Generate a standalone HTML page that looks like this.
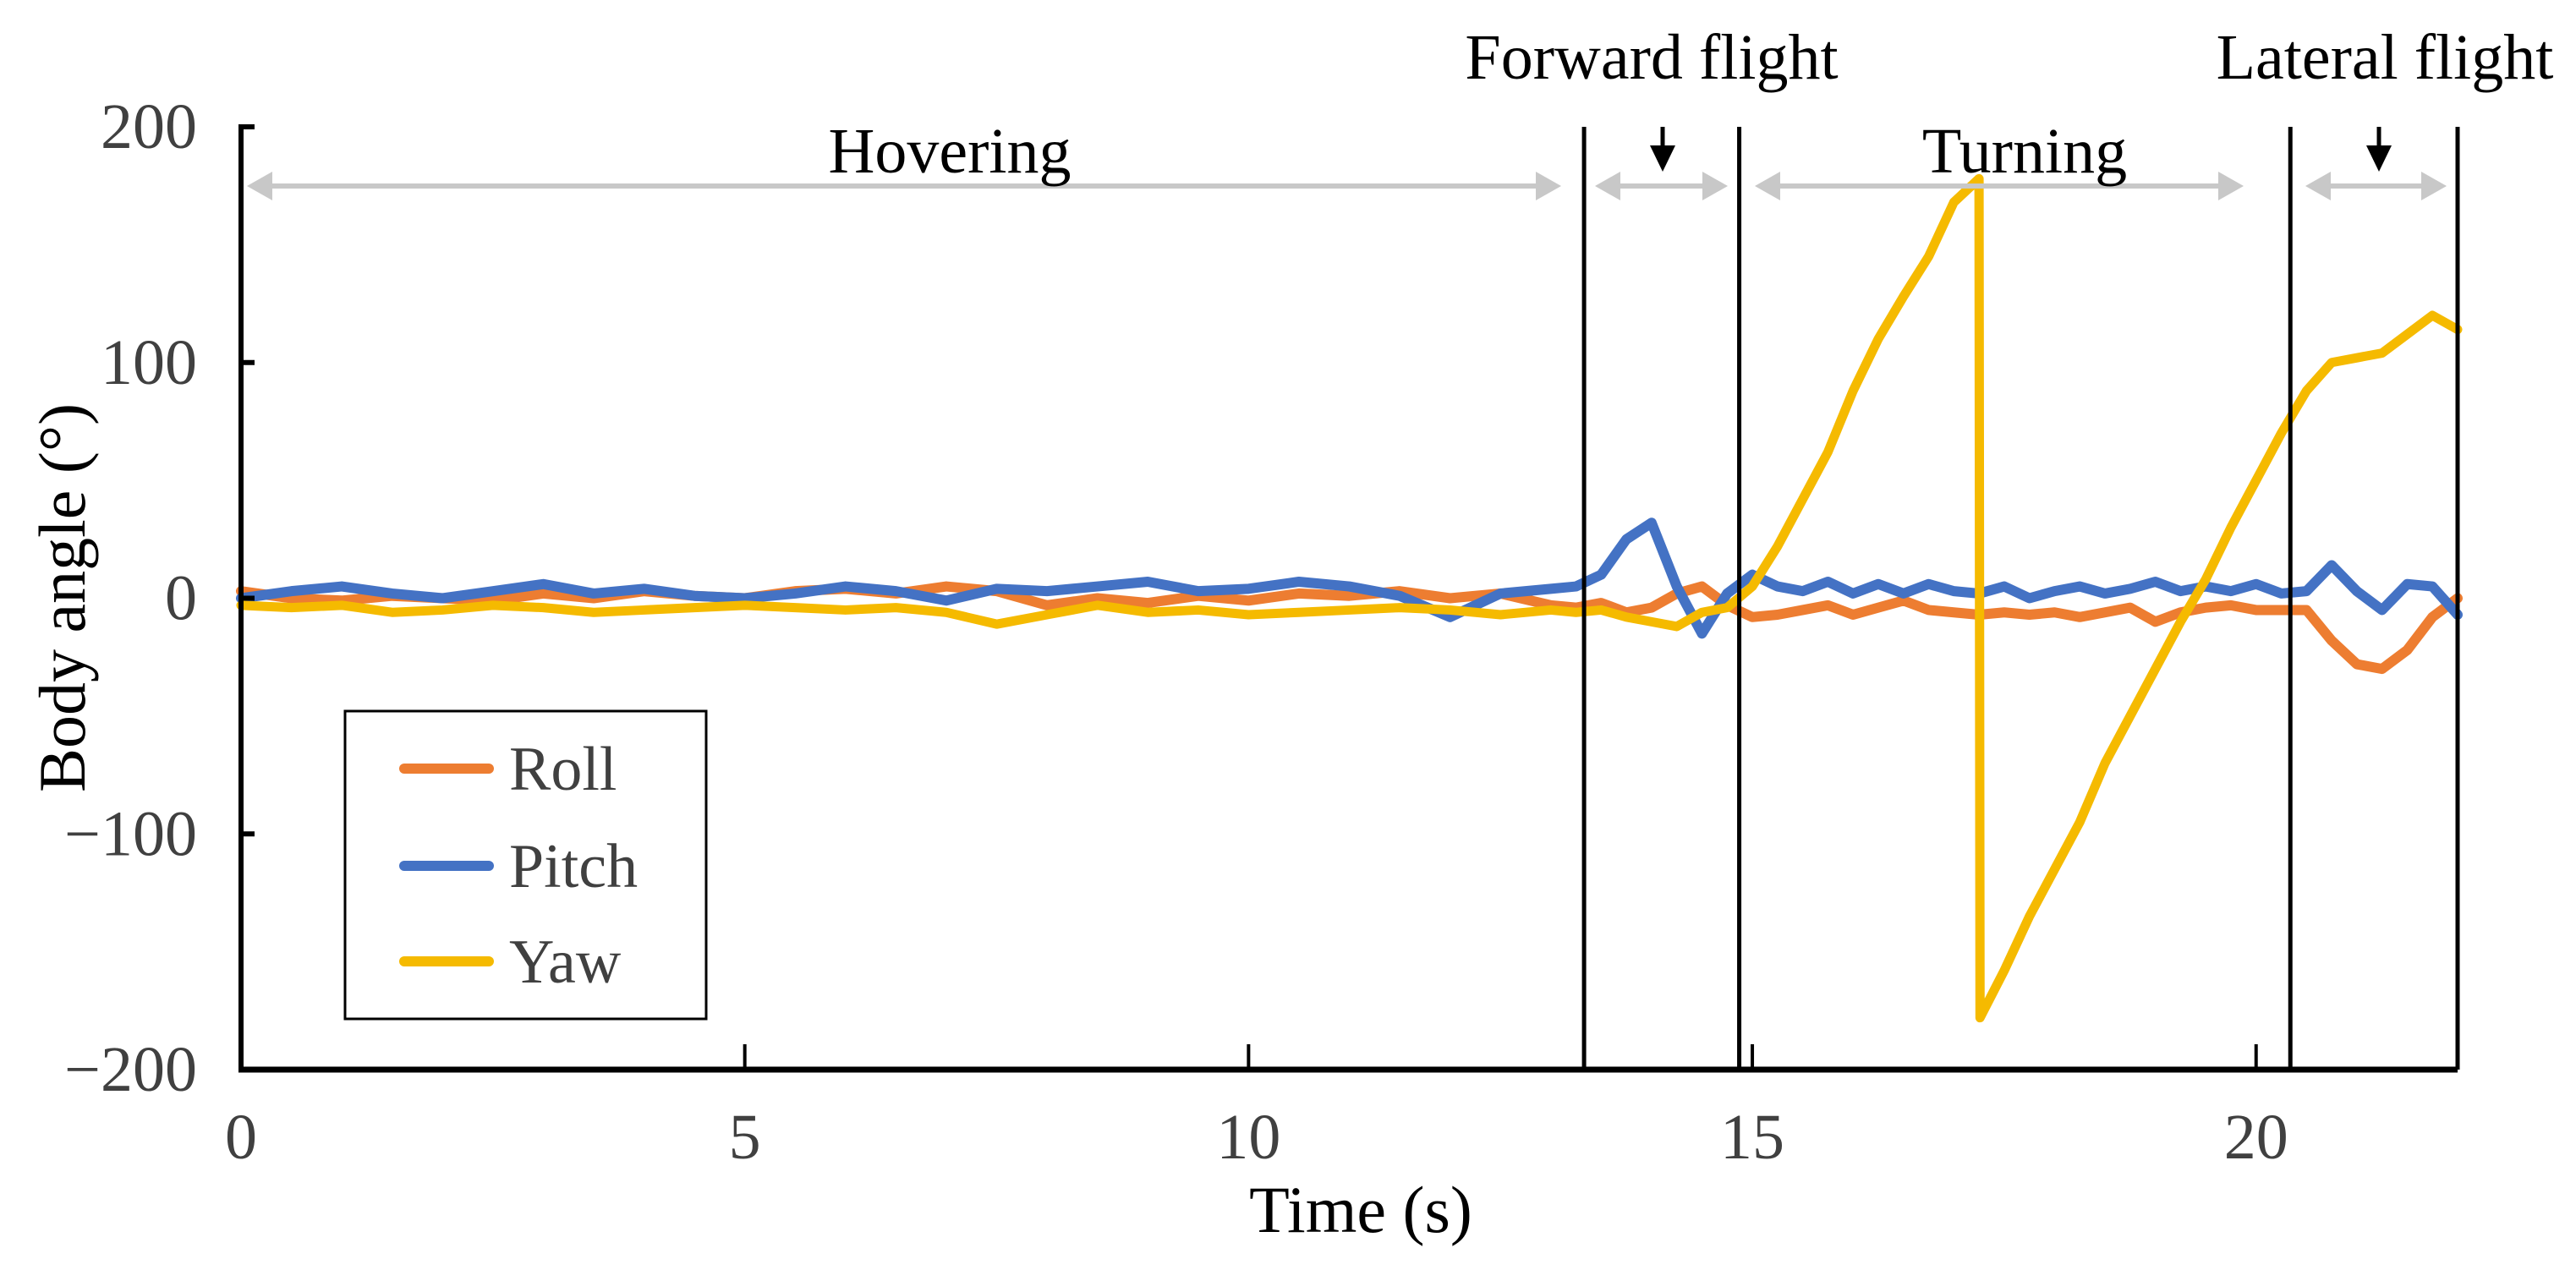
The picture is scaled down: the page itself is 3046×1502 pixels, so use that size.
<!DOCTYPE html>
<html><head><meta charset="utf-8"><style>
html,body{margin:0;padding:0;background:#fff;}
svg{display:block;}
text{font-family:"Liberation Serif",serif;}
</style></head><body>
<svg id="chart" width="3046" height="1502" viewBox="0 0 3046 1502" xmlns="http://www.w3.org/2000/svg">
<g id="plot"></g>
</svg>
<script>
const times = [0,0.5,1,1.5,2,2.5,3,3.5,4,4.5,5,5.5,6,6.5,7,7.5,8,8.5,9,9.5,10,10.5,11,11.5,12,12.5,13,
13.25,13.5,13.75,14,14.25,14.5,14.75,15,15.25,15.5,15.75,16,16.25,16.5,16.75,17,17.25,17.5,17.75,18,18.25,18.5,18.75,19,19.25,19.5,19.75,20,20.25,20.5,20.75,21,21.25,21.5,21.75,22];
const rollValues = [3,0,-1,1,0,-1,2,0,3,1,0,3,4,2,5,3,-3,0,-2,1,-1,2,1,3,0,2,-3,
-4,-2,-6,-4,2,5,-3,-8,-7,-5,-3,-7,-4,-1,-5,-6,-7,-6,-7,-6,-8,-6,-4,-10,-6,-4,-3,-5,-5,-5,-18,-28,-30,-22,-8,0];
const pitchValues = [0,3,5,2,0,3,6,2,4,1,0,2,5,3,-1,4,3,5,7,3,4,7,5,1,-8,2,4,
5,10,25,32,5,-15,2,10,5,3,7,2,6,2,6,3,2,5,0,3,5,2,4,7,3,5,3,6,2,3,14,3,-5,6,5,-7];
const yawTimes = [0,0.5,1,1.5,2,2.5,3,3.5,4,4.5,5,5.5,6,6.5,7,7.5,8,8.5,9,9.5,10,10.5,11,11.5,12,12.5,13,
13.25,13.5,13.75,14,14.25,14.5,14.75,15,15.25,15.5,15.75,16,16.25,16.5,16.75,17,17.25,17.26,17.5,17.75,18,18.25,18.5,18.75,19,19.25,19.5,19.75,20,20.25,20.5,20.75,21,21.25,21.5,21.75,22];
const yawValues = [-3,-4,-3,-6,-5,-3,-4,-6,-5,-4,-3,-4,-5,-4,-6,-11,-7,-3,-6,-5,-7,-6,-5,-4,-5,-7,-5,
-6,-5,-8,-10,-12,-6,-4,5,22,42,62,88,110,128,145,168,178,-178,-158,-135,-115,-95,-70,-50,-30,-10,8,30,50,70,88,100,102,104,112,120,114];
const xTicks = [0,5,10,15,20];
const yTicks = [200,100,0,-100,-200];
const yTickLabels = ["200","100","0","\u2212100","\u2212200"];
const phaseLines = [13.33,14.87,20.34,22];

const X0=285, X1=2906, Y0=150, Y1=1265, T0=0, T1=22, V0=200, V1=-200;
const sx = t => X0 + (t-T0)/(T1-T0)*(X1-X0);
const sy = v => Y0 + (V0-v)/(V0-V1)*(Y1-Y0);
const NS="http://www.w3.org/2000/svg";
const svg=document.getElementById('chart');
function mk(tag,attrs,parent){const e=document.createElementNS(NS,tag);for(const k in attrs)e.setAttribute(k,attrs[k]);(parent||svg).appendChild(e);return e;}

function series(ts,vs,color,name,w){
  const p=mk('polyline',{points:ts.map((t,i)=>sx(t)+','+sy(vs[i])).join(' '),fill:'none',stroke:color,'stroke-width':w,'stroke-linejoin':'round','stroke-linecap':'round'});
  
  
}
series(times,rollValues,'#ED7D31','roll-line',12);
series(times,pitchValues,'#4472C4','pitch-line',12);
series(yawTimes,yawValues,'#F5BA00','yaw-line',11);

const ya=mk('line',{x1:X0,y1:Y0-3,x2:X0,y2:Y1+3,stroke:'#000','stroke-width':6});


const xa=mk('line',{x1:X0-3,y1:Y1,x2:X1,y2:Y1,stroke:'#000','stroke-width':7});


yTicks.forEach((v,i)=>{
  const tk=mk('line',{x1:X0,y1:sy(v),x2:X0+16,y2:sy(v),stroke:'#000','stroke-width':6});
  
  
  const tl=mk('text',{x:233,y:sy(v)+25,'text-anchor':'end','font-size':76,fill:'#404040'});
  tl.textContent=yTickLabels[i];
  
  
});
xTicks.forEach(t=>{
  if(t>0){const tk=mk('line',{x1:sx(t),y1:Y1,x2:sx(t),y2:Y1-30,stroke:'#000','stroke-width':4});
  
  }
  const tl=mk('text',{x:sx(t),y:1370,'text-anchor':'middle','font-size':76,fill:'#404040'});
  tl.textContent=String(t);
  
  
});
phaseLines.forEach(t=>{
  const l=mk('line',{x1:sx(t),y1:Y0,x2:sx(t),y2:Y1,stroke:'#000','stroke-width':5});
  
  
});

function garrow(a,b,name){
  const y=220,g=mk('g',{});
  
  
  mk('line',{x1:a+20,y1:y,x2:b-20,y2:y,stroke:'#c8c8c8','stroke-width':6},g);
  mk('polygon',{points:`${a},${y} ${a+30},${y-17} ${a+30},${y+17}`,fill:'#c8c8c8'},g);
  mk('polygon',{points:`${b},${y} ${b-30},${y-17} ${b-30},${y+17}`,fill:'#c8c8c8'},g);
}
garrow(292,1846,'hovering-range-arrow');
garrow(1886,2043,'forward-range-arrow');
garrow(2075,2653,'turning-range-arrow');
garrow(2726,2893,'lateral-range-arrow');
function barrow(x,name){
  const g=mk('g',{});
  
  
  mk('line',{x1:x,y1:150,x2:x,y2:182,stroke:'#000','stroke-width':5},g);
  mk('polygon',{points:`${x-15},172 ${x+15},172 ${x},203`,fill:'#000'},g);
}
barrow(1966,'forward-flight-pointer');
barrow(2813,'lateral-flight-pointer');
function label(txt,x,y,name){
  const t=mk('text',{x:x,y:y,'text-anchor':'middle','font-size':76,fill:'#000'});
  t.textContent=txt;
  
  
}
label('Hovering',1123,204,'hovering-label');
label('Forward flight',1953,93,'forward-flight-label');
label('Turning',2394,204,'turning-label');
label('Lateral flight',2820,93,'lateral-flight-label');

const xt=mk('text',{x:1609,y:1457,'text-anchor':'middle','font-size':78,fill:'#000'});
xt.textContent='Time (s)';


const yt=mk('text',{x:0,y:0,'text-anchor':'middle','font-size':78,fill:'#000',transform:'translate(100,707) rotate(-90)'});
yt.textContent='Body angle (°)';



const lg=mk('g',{});


mk('rect',{x:408,y:841,width:427,height:364,fill:'#fff',stroke:'#000','stroke-width':3},lg);
[['Roll','#ED7D31',909],['Pitch','#4472C4',1024],['Yaw','#F5BA00',1137]].forEach(([n,c,y])=>{
  const e=mk('g',{},lg);
  
  
  mk('line',{x1:478,y1:y,x2:578,y2:y,stroke:c,'stroke-width':12,'stroke-linecap':'round'},e);
  const t=mk('text',{x:602,y:y+25,'font-size':74,fill:'#404040'},e);
  t.textContent=n;
});
</script>
</body></html>
